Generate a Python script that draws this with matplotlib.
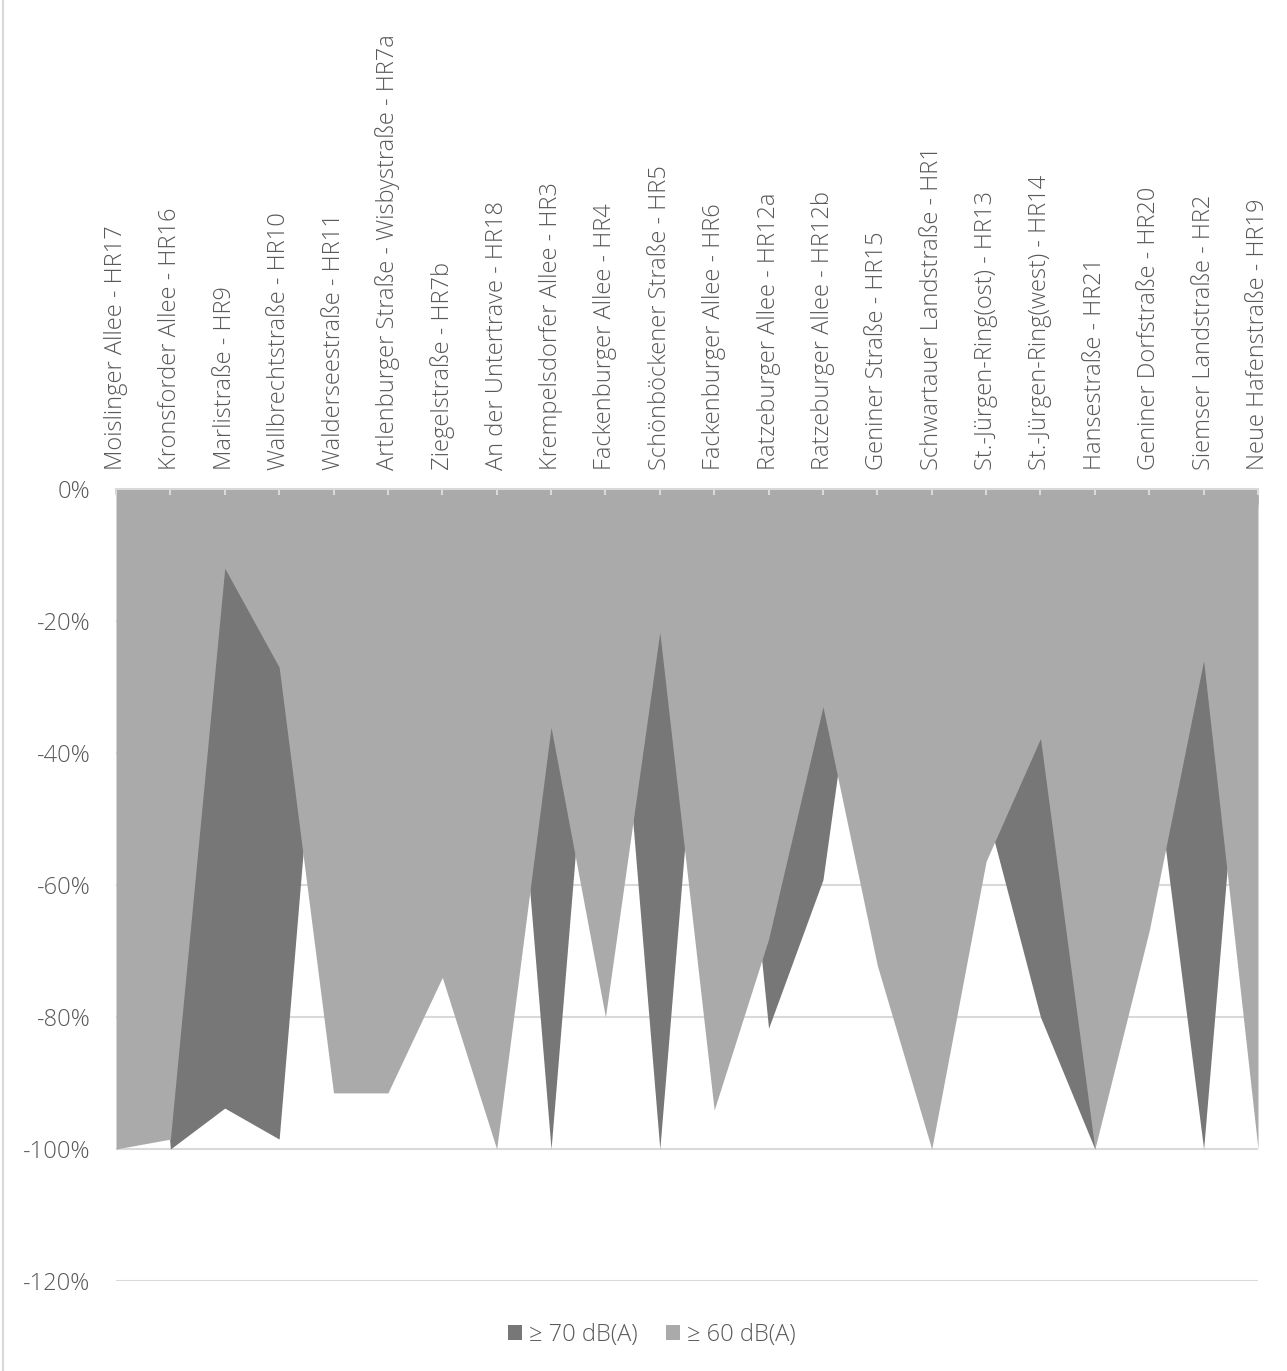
import matplotlib.pyplot as plt
from matplotlib.patches import Patch
from matplotlib.lines import Line2D

# -------------------------
# Data
# -------------------------
categories = [
    "Moislinger Allee - HR17",
    "Kronsforder Allee - HR16",
    "Marlistraße - HR9",
    "Wallbrechtstraße - HR10",
    "Walderseestraße - HR11",
    "Artlenburger Straße - Wisbystraße - HR7a",
    "Ziegelstraße - HR7b",
    "An der Untertrave - HR18",
    "Krempelsdorfer Allee - HR3",
    "Fackenburger Allee - HR4",
    "Schönböckener Straße - HR5",
    "Fackenburger Allee - HR6",
    "Ratzeburger Allee - HR12a",
    "Ratzeburger Allee - HR12b",
    "Geniner Straße - HR15",
    "Schwartauer Landstraße - HR1",
    "St.-Jürgen-Ring(ost) - HR13",
    "St.-Jürgen-Ring(west) - HR14",
    "Hansestraße - HR21",
    "Geniner Dorfstraße - HR20",
    "Siemser Landstraße - HR2",
    "Neue Hafenstraße - HR19",
]

# share of section, in percent (negative, drawn downwards from 0)
ge70 = [0, -100, -93.8, -98.5, 0, 0, 0, 0, -100, 0, -100, 0,
        -81.7, -59.2, 0, 0, -48.6, -80.0, -100, -35.0, -100, -2.0]
ge60 = [-100, -98.5, -12.0, -27.0, -91.5, -91.5, -74.0, -100, -36.1, -80.0, -21.7, -94.1,
        -68.2, -33.0, -72.2, -100, -56.4, -37.8, -100, -66.9, -26.0, -100]

series_labels = ["≥ 70 dB(A)", "≥ 60 dB(A)"]
yticks = [0, -20, -40, -60, -80, -100, -120]
ytick_labels = ["0%", "-20%", "-40%", "-60%", "-80%", "-100%", "-120%"]

# -------------------------
# Style
# -------------------------
plt.rcParams["font.family"] = ["Open Sans", "DejaVu Sans"]
plt.rcParams["font.weight"] = "light"
text_color = "#595959"
grid_color = "#d9d9d9"
dark = "#777777"
light = "#aaaaaa"
fs = 17

W, H = 1287, 1371
fig = plt.figure(figsize=(W / 100, H / 100), dpi=100)
ax = fig.add_axes([116 / W, 1 - 1281 / H, (1258 - 116) / W, (1281 - 489) / H])

x = list(range(len(categories)))

# overlapping areas, second series drawn in front
ax.fill_between(x, 0, ge70, color=dark, lw=0, zorder=1)
ax.fill_between(x, 0, ge60, color=light, lw=0, zorder=1)

ax.set_xlim(0, len(categories) - 1)
ax.set_ylim(-120, 0)

# -------------------------
# Axes
# -------------------------
ax.set_yticks(yticks)
ax.set_yticklabels(ytick_labels)
ax.yaxis.grid(True, color=grid_color, lw=1.5)
ax.set_axisbelow(True)
ax.tick_params(axis="y", length=0, pad=18.5, labelsize=fs, labelcolor=text_color)

ax.xaxis.tick_top()
ax.set_xticks(x)
ax.set_xticklabels(categories, rotation=90, ha="center", va="bottom")
ax.tick_params(axis="x", direction="in", length=4, width=1.5, color=grid_color,
               pad=14, labelsize=fs, labelcolor=text_color)
ax.xaxis.set_zorder(3)

for side in ["left", "right", "bottom"]:
    ax.spines[side].set_visible(False)
ax.spines["top"].set_color(grid_color)
ax.spines["top"].set_linewidth(1.5)
ax.spines["top"].set_zorder(3)

# -------------------------
# Legend + frame
# -------------------------
handles = [Patch(facecolor=dark, edgecolor="none"), Patch(facecolor=light, edgecolor="none")]
fig.legend(handles, series_labels, loc="center", bbox_to_anchor=(652 / W, 1 - 1335 / H),
           ncol=2, frameon=False, fontsize=fs, labelcolor=text_color,
           handlelength=0.6, handleheight=0.6, handletextpad=0.3, columnspacing=1.2)

fig.add_artist(Line2D([3 / W, 3 / W], [0, 1], color=grid_color, lw=1.5))

fig.savefig("out.png", dpi=100)
